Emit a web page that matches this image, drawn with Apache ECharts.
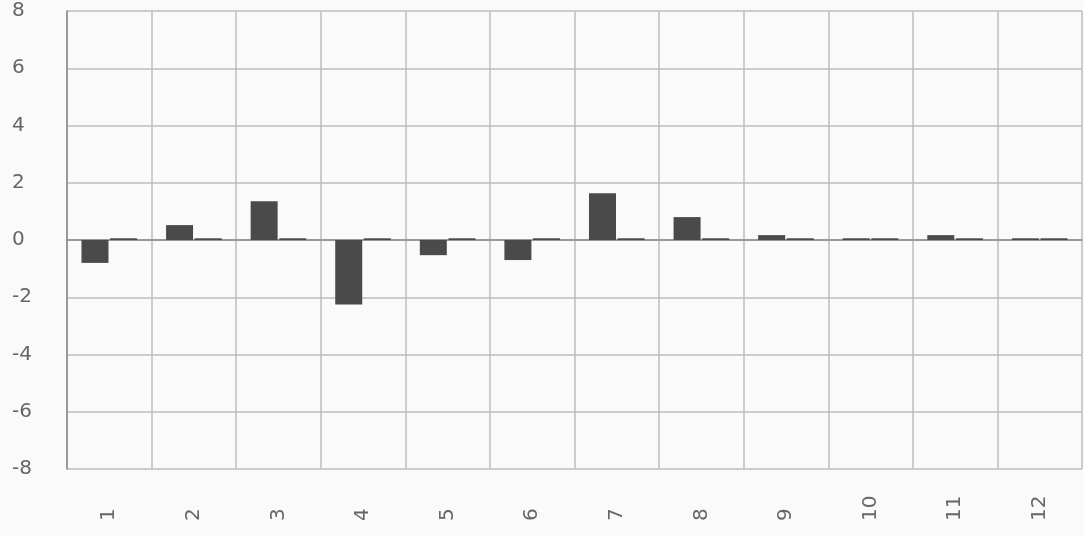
<!DOCTYPE html>
<html>
<head>
<meta charset="utf-8">
<script src="https://cdn.jsdelivr.net/npm/echarts@6/dist/echarts.min.js"></script>
<style>
html,body{margin:0;padding:0;background:#fafafa;}
#c{width:1084px;height:536px;}
</style>
</head>
<body>
<div id="c"></div>
<script>
const categories = ['1','2','3','4','5','6','7','8','9','10','11','12'];
const seriesA = [-0.8, 0.52, 1.35, -2.25, -0.53, -0.7, 1.63, 0.8, 0.17, 0.06, 0.17, 0.06];
const seriesB = [0.06, 0.06, 0.06, 0.06, 0.06, 0.06, 0.06, 0.06, 0.06, 0.06, 0.06, 0.06];
const yTicks = {min: -8, max: 8, interval: 2};

const chart = echarts.init(document.getElementById('c'), null, {renderer: 'canvas'});
chart.setOption({
  backgroundColor: '#fafafa',
  animation: false,
  grid: {left: 67, right: 2, top: 11, bottom: 67, containLabel: false},
  xAxis: {
    type: 'category',
    data: categories,
    boundaryGap: true,
    axisLine: {show: true, lineStyle: {color: '#888', width: 1.5}},
    axisTick: {show: false},
    splitLine: {show: true, lineStyle: {color: '#bdbdbd', width: 1.5}},
    axisLabel: {
      rotate: 90, align: 'left', verticalAlign: 'middle', margin: 52,
      color: '#666', fontSize: 20, fontFamily: 'DejaVu Sans'
    }
  },
  yAxis: {
    type: 'value',
    min: yTicks.min, max: yTicks.max, interval: yTicks.interval,
    axisLine: {show: true, lineStyle: {color: '#888', width: 1.5}},
    axisTick: {show: false},
    splitLine: {show: true, lineStyle: {color: '#bdbdbd', width: 1.5}},
    axisLabel: {
      align: 'left', margin: 55, color: '#666', fontSize: 20, fontFamily: 'DejaVu Sans'
    }
  },
  series: [
    {type: 'bar', data: seriesA, barWidth: 27, barGap: '6%', itemStyle: {color: '#4a4a4a'}},
    {type: 'bar', data: seriesB, barWidth: 27, itemStyle: {color: '#4a4a4a'}}
  ]
});
</script>
</body>
</html>
